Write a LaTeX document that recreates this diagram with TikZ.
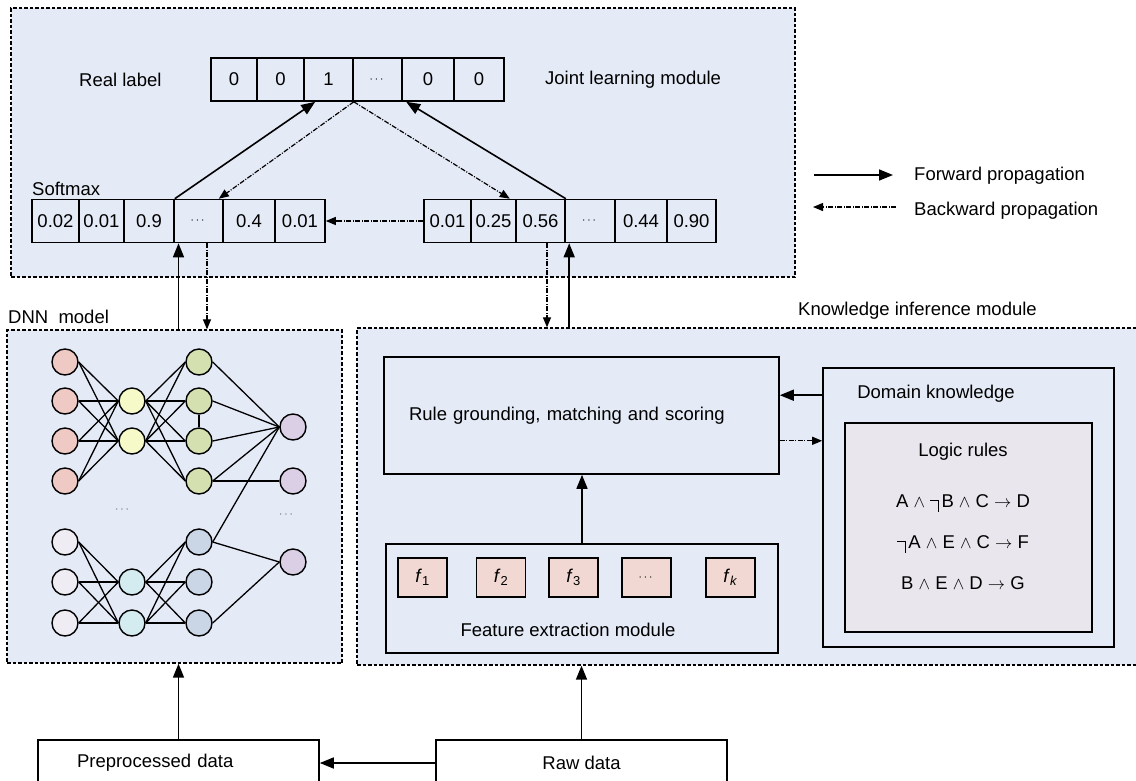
\documentclass[tikz,border=0pt]{standalone}
\usepackage{fontspec}
\setmainfont{Liberation Sans}
\usepackage{amsmath}
\usepackage{amssymb}
\usetikzlibrary{calc}
\usetikzlibrary{arrows.meta,positioning}

\definecolor{panelblue}{RGB}{228,234,246}
\definecolor{rulegrey}{RGB}{234,230,238}
\definecolor{featpink}{RGB}{242,216,210}
\definecolor{nred}{RGB}{239,201,196}
\definecolor{nyellow}{RGB}{245,250,200}
\definecolor{ngreen}{RGB}{212,224,176}
\definecolor{nlav}{RGB}{239,236,243}
\definecolor{ncyan}{RGB}{212,236,240}
\definecolor{nblue}{RGB}{202,214,230}
\definecolor{npurple}{RGB}{218,207,228}

\newcommand{\midots}{{\fontsize{13}{14}\selectfont$\cdots$}}
\newcommand{\ruleand}{\ $\wedge$\ }
\newcommand{\ruleneg}{\rule[0.6ex]{0.42em}{0.07em}\rule[-0.5ex]{0.07em}{1.24ex}\hspace{0.12em}}
\newcommand{\ruleto}{\ $\rightarrow$\ }
\newcommand{\featsym}[1]{\textit{f}\textsubscript{#1}}

\begin{document}
\begin{tikzpicture}[
        x=1pt,
        y=-1pt,
        every node/.style={font=\fontsize{18.5}{22}\selectfont,inner sep=0pt},
        panel/.style={draw,fill=panelblue,line width=1.3pt,dash pattern=on 3.5pt off 2pt},
        frame/.style={draw,fill=panelblue,line width=1.6pt},
        cell/.style={draw,fill=panelblue,line width=1.6pt,minimum height=43pt},
        feature/.style={draw,fill=featpink,line width=1.6pt,minimum width=49pt,minimum height=39pt},
        neuron/.style={circle,draw,line width=1.4pt,minimum size=26pt},
        fwd/.style={line width=1.6pt,-{Triangle[length=14pt,width=11pt]}},
        bwd/.style={line width=1.2pt,dash pattern=on 5pt off 1.5pt on 1pt off 1.5pt,-{Triangle[length=10pt,width=8pt]}},
        edge/.style={line width=1.3pt}
    ]
        \useasboundingbox (0,0) rectangle (1136,780);
        \clip (0,0) rectangle (1136,780);
        \fill[white] (0,0) rectangle (1136,780);

        % The joint learning module with the real label and both softmax outputs.
        \node[panel,minimum width=784pt,minimum height=269pt] (joint) at (403,142.5) {};
        \node[anchor=west] (reallbl) at (79,80) {Real label};
        \node[anchor=west] (jointlbl) at (545,80) {Joint learning module};
        \node[anchor=west] (smlbl) at (32,189) {Softmax};
        \foreach \a/\b/\val [count=\i] in {211/257/0,257/304/0,304/353/1,353/402/\midots,402/454/0,454/504/0}
            \node[cell,minimum width={(\b-\a)*1pt}] (rl\i) at ({(\a+\b)/2},79.5) {\val};
        \foreach \a/\b/\val [count=\i] in {32/79/0.02,79/124/0.01,124/174/0.9,174/223/\midots,223/275/0.4,275/325/0.01}
            \node[cell,minimum width={(\b-\a)*1pt}] (sl\i) at ({(\a+\b)/2},221) {\val};
        \foreach \a/\b/\val [count=\i] in {424/471/0.01,471/516/0.25,516/565/0.56,565/615/\midots,615/667/0.44,667/716/0.90}
            \node[cell,minimum width={(\b-\a)*1pt}] (sr\i) at ({(\a+\b)/2},221) {\val};

        \draw[fwd] (sl3.north east) -- ($(rl3.south west)+(12,0)$);
        \draw[bwd] (rl3.south east) -- ($(sl4.north east)+(-5,0)$);
        \draw[bwd] (rl3.south east) -- ($(sr2.north east)+(-7,0)$);
        \draw[fwd] (sr3.north east) -- ($(rl5.south west)+(5,0)$);
        \draw[bwd] (sr1.west) -- (sl6.east);

        % Legend.
        \coordinate (fwdA) at (814,175);
        \coordinate (fwdB) at (893,175);
        \draw[fwd] (fwdA) -- (fwdB);
        \node[anchor=west] (fwdlbl) at (914,176) {Forward propagation};
        \coordinate (bwdA) at (896,207);
        \coordinate (bwdB) at (813,207);
        \draw[bwd] (bwdA) -- (bwdB);
        \node[anchor=west] (bwdlbl) at (914,211) {Backward propagation};

        % The DNN model.
        \node[anchor=west] (dnnlbl) at (8,317) {DNN~ model};
        \node[panel,minimum width=335pt,minimum height=333pt] (dnn) at (174.5,496.5) {};
        \foreach \y [count=\i] in {362,401,441,481} {
            \node[neuron,fill=nred] (r\i) at (65,\y) {};
            \node[neuron,fill=ngreen] (g\i) at (199,\y) {};
        }
        \foreach \y [count=\i] in {401,441} \node[neuron,fill=nyellow] (y\i) at (132,\y) {};
        \foreach \y [count=\i] in {542,582,623} {
            \node[neuron,fill=nlav] (l\i) at (65,\y) {};
            \node[neuron,fill=nblue] (b\i) at (199,\y) {};
        }
        \foreach \y [count=\i] in {582,623} \node[neuron,fill=ncyan] (c\i) at (132,\y) {};
        \foreach \y [count=\i] in {427,481,562} \node[neuron,fill=npurple] (p\i) at (293,\y) {};
        \foreach \i in {1,...,4} \foreach \j in {1,2} {
            \draw[edge] (r\i.east) -- (y\j.west);
            \draw[edge] (y\j.east) -- (g\i.west);
        }
        \foreach \i in {1,2,3} \foreach \j in {1,2} {
            \draw[edge] (l\i.east) -- (c\j.west);
            \draw[edge] (c\j.east) -- (b\i.west);
        }
        \draw[edge] (g2) -- (g3);
        \foreach \i in {1,...,4} \draw[edge] (g\i.east) -- (p1.west);
        \draw[edge] (g4.east) -- (p2.west);
        \draw[edge] (b1.east) -- (p1.west);
        \draw[edge] (b1.east) -- (p3.west);
        \draw[edge] (b3.east) -- (p3.west);
        \node[text=black!60] (dnndots) at (123,510) {\midots};
        \node[text=black!60] (outdots) at (287,515) {\midots};

        \coordinate (dnnup) at ($(dnn.north)+(4,0)$);
        \draw[fwd] (dnnup) -- (dnnup |- sl4.south);
        \coordinate (dnndown) at ($(sl4.south)+(8.5,0)$);
        \draw[bwd] (dnndown) -- (dnndown |- dnn.north);

        % The knowledge inference module.
        \node[anchor=west] (kimlbl) at (798,311) {Knowledge inference module};
        \node[panel,minimum width=793pt,minimum height=337pt] (kim) at (753.5,496.5) {};
        \node[frame,text width=345pt,inner xsep=25pt,minimum height=117pt,align=left] (ground) at (581.5,415.5)
            {Rule grounding, matching and scoring};
        \node[frame,minimum width=392pt,minimum height=109pt] (feat) at (582,598.5) {};
        \node (featlbl) at (568,630) {Feature extraction module};
        \foreach \x/\val [count=\i] in {422.5/\featsym{1},501/\featsym{2},573.5/\featsym{3},646.5/\midots,730.5/\featsym{\textit{k}}}
            \node[feature] (f\i) at (\x,577.5) {\val};
        \draw[fwd] (feat.north) -- (feat.north |- ground.south);

        \node[frame,minimum width=291pt,minimum height=279pt] (domain) at (968.5,507.5) {};
        \node (domainlbl) at (936,394) {Domain knowledge};
        \node[frame,fill=rulegrey,minimum width=247pt,minimum height=209pt] (logic) at (968.5,527.5) {};
        \node (logiclbl) at (963,452) {Logic rules};
        \node (rule1) at (963,503) {A\ruleand\ruleneg B\ruleand C\ruleto D};
        \node (rule2) at (963,544) {\ruleneg A\ruleand E\ruleand C\ruleto F};
        \node (rule3) at (963,583) {B\ruleand E\ruleand D\ruleto G};

        \coordinate (dkout) at ($(domain.north west)+(0,28)$);
        \draw[fwd] (dkout) -- (dkout -| ground.east);
        \coordinate (dkin) at ($(ground.south east)+(0,-34)$);
        \draw[bwd] (dkin) -- (dkin -| domain.west);

        \coordinate (kimdown) at ($(sr3.south)+(6.5,0)$);
        \draw[bwd] (kimdown) -- (kimdown |- kim.north);
        \coordinate (kimup) at ($(sr4.south west)+(5,0)$);
        \draw[fwd] (kimup |- kim.north) -- (kimup);

        % Data sources.
        \node[frame,fill=white,minimum height=46pt,text width=203pt,inner xsep=39pt,align=left] (prep) at (178.5,763)
            {Preprocessed data};
        \node[frame,fill=white,minimum width=291pt,minimum height=46pt] (raw) at (581.5,763) {Raw data};
        \draw[fwd] (raw.west) -- (prep.east);
        \draw[fwd] (prep.north) -- (prep.north |- dnn.south);
        \draw[fwd] (raw.north) -- (raw.north |- kim.south);
    \end{tikzpicture}
\end{document}
